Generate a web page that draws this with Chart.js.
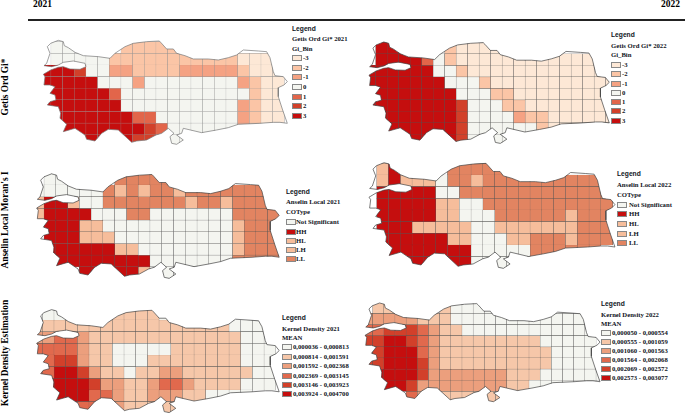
<!DOCTYPE html>
<html>
<head>
<meta charset="utf-8">
<title>Spatial maps 2021 2022</title>
<script src="https://cdn.jsdelivr.net/npm/chart.js@4/dist/chart.umd.js"></script>
<style>
html, body { margin: 0; padding: 0; background: #fff; }
body { position: relative; width: 685px; height: 414px; overflow: hidden; font-family: "Liberation Serif", serif; color: #10131c; }
canvas { position: absolute; }
.txt { position: absolute; white-space: nowrap; font-weight: bold; font-size: 6.7px; line-height: 8px; transform: translateY(-50%); }
.head { position: absolute; font-weight: bold; font-size: 9.5px; color: #000; line-height: 10px; }
.side { position: absolute; font-weight: bold; font-size: 9.4px; color: #000; white-space: nowrap; transform: translate(-50%, -50%) rotate(-90deg); }
.sans { font-family: "Liberation Sans", sans-serif; }
.swatch { position: absolute; box-sizing: border-box; width: 10px; height: 6px; border: 1px solid #888; transform: translateY(-50%); }
#rule { position: absolute; left: 28px; top: 19px; width: 657px; height: 1.5px; background: #222; }
</style>
</head>
<body>
<div class="head" style="left:33px;top:-1px">2021</div>
<div class="head" style="left:661px;top:-1px">2022</div>
<div id="rule"></div>
<div class="side" style="left:5px;top:87px">Getis Ord Gi*</div>
<div class="side" style="left:5px;top:220px">Anselin Local Moran's I</div>
<div class="side" style="left:5px;top:353px">Kernel Density Estimation</div>
<script>
// class labels
const giLabels = ['-3', '-2', '-1', '0', '1', '2', '3'];
const coLabels = ['Not Significant', 'HH', 'HL', 'LH', 'LL'];
const kde2021Labels = ['0,000036 - 0,000813', '0,000814 - 0,001591', '0,001592 - 0,002368', '0,002369 - 0,003145', '0,003146 - 0,003923', '0,003924 - 0,004700'];
const kde2022Labels = ['0,000050 - 0,000554', '0,000555 - 0,001059', '0,001060 - 0,001563', '0,001564 - 0,002068', '0,002069 - 0,002572', '0,002573 - 0,003077'];

// class colours
const giColors = ['#fde8d6', '#fbc5a6', '#f5a283', '#f4f5f0', '#e2654a', '#d2402a', '#c50e0e'];
const coColors = ['#f4f5f0', '#c50e0e', '#f6bd9b', '#f6bd9b', '#e28461'];
const kdeColors = ['#f4f5f0', '#f6c7a9', '#ec9f7d', '#e1694d', '#d2402a', '#c50e0e'];

// grid cells: one string per row, one class index per column, '.' = no cell
const gi2021 = [
  '.33....11111.........',
  '.3333311111111111000.',
  '666533221111222221000',
  '666663332333333332100',
  '666666433333333333100',
  '666666633333333332100',
  '666666664433333332100',
  '666666666543333332100',
  '...6666655333........'
];
const gi2022 = [
  '.666...100000.........',
  '.6666431000000000000..',
  '6666663310000000000000',
  '6666666333100000000000',
  '6666666633311000000000',
  '6666666653331100000000',
  '6666666653333211000000',
  '6666666653333331000000',
  '....6666533333........'
];
const moran2021 = [
  '.00....44444.........',
  '00000043434434444444.',
  '31130044444443443444.',
  '311110004400000004444',
  '.11133000000000003444',
  '.11133300000000003444',
  '.11111133000000003444',
  '.11111111100000004444',
  '....111113000........'
];
const moran2022 = [
  '31....444444.........',
  '3133304434444444444..',
  '11111004444444444444.',
  '11111330044444444444.',
  '11111330004444443444.',
  '11133333003333333444.',
  '11111133000334443444.',
  '1111111100000444444..',
  '..11111100000........'
];
const kde2021 = [
  '.00....11110.........',
  '11111111111111111000.',
  '223321111111111111000',
  '333321100000111111000',
  '334421100011111111000',
  '335542110112211111100',
  '.55554221123321111000',
  '.555533211222110000..',
  '....333211111........'
];
const kde2022 = [
  '.11....10000..........',
  '22222111000000000000..',
  '334443211000000000000.',
  '445543211111111100000.',
  '4455532111111111100000',
  '4455542111111111100000',
  '.555542222222111000000',
  '.55542222222211000000.',
  '....322111111.........'
];

// country outline in map units, last point closes it on the first
const outlineU = [142,152,175,190,193,205,225,250,295,330,345,375,400,440,478,483,500,520,530,555,580,625,655,685,710,730,775,800,810,820,825,850,862,852,835,835,848,862,840,820,780,715,685,650,605,550,545,530,550,530,515,510,522,505,485,468,440,410,395,355,325,305,285,260,255,225,190,200,180,182,175,142,150,168,165,150,165,150,132,135,130,152,175,190,210,240,258,255,220,190,175,155,132,140,150,142];
const outlineV = [140,130,121,125,137,143,157,167,170,175,160,140,130,125,123,128,147,147,160,167,177,177,180,173,165,150,153,155,173,215,227,230,245,255,263,290,330,370,367,367,370,373,383,390,398,385,400,405,420,433,430,410,400,385,400,405,420,423,427,390,388,400,423,418,405,385,395,373,355,340,320,315,305,300,285,280,260,255,255,230,223,210,202,200,207,208,200,190,183,187,195,200,197,190,160,140];

// placement on the page: box = canvas box, grid = cell origin and size, map = outline fit
const panels = [
  { id: 'gi2021', rows: gi2021, colors: giColors, labels: giLabels, gridColor: '#929292', lineColor: '#777',
    box: [30, 30, 262, 120], grid: [39.3, 41.7, 11.67, 11.63], map: [0, 0.3333, 0, 0.3333],
    legend: { x: 292, lab: 303, head: 29, title: 39, field: 49, name: 'Getis Ord Gi* 2021', fieldName: 'Gi_Bin', ys: [58, 67.5, 77, 87, 97, 106, 116] } },
  { id: 'gi2022', rows: gi2022, colors: giColors, labels: giLabels, gridColor: '#555', lineColor: '#444',
    box: [355, 35, 256, 115], grid: [364.2, 42.3, 11.5, 11.5], map: [326.3, 0.3283, 2.67, 0.325],
    legend: { x: 611, lab: 622, head: 35, title: 46, field: 55, name: 'Getis Ord Gi* 2022', fieldName: 'Gi_Bin', ys: [65, 74, 83.5, 93, 102, 111, 121] } },
  { id: 'moran2021', rows: moran2021, colors: coColors, labels: coLabels, gridColor: '#555', lineColor: '#444',
    box: [25, 165, 261, 120], grid: [32.3, 173.3, 11.77, 11.7], map: [-6.4, 0.3313, 133.3, 0.335],
    legend: { x: 286, lab: 296, head: 192, title: 202, field: 212, name: 'Anselin Local 2021', fieldName: 'COType', ys: [222, 231.5, 241, 250, 259] } },
  { id: 'moran2022', rows: moran2022, colors: coColors, labels: coLabels, gridColor: '#555', lineColor: '#444',
    box: [355, 155, 262, 120], grid: [376.7, 163.3, 11.8, 11.67], map: [325.3, 0.336, 121.7, 0.3387],
    legend: { x: 617, lab: 629, head: 174, title: 185, field: 195, name: 'Anselin Local 2022', fieldName: 'COType', ys: [205, 214, 224, 234, 243] } },
  { id: 'kde2021', rows: kde2021, colors: kdeColors, labels: kde2021Labels, gridColor: '#555', lineColor: '#444',
    box: [25, 300, 257, 114], grid: [30.7, 308.3, 11.67, 11.67], map: [-6.4, 0.3313, 269.7, 0.33],
    legend: { x: 282, lab: 293, head: 318, title: 329, field: 338, name: 'Kernel Density 2021', fieldName: 'MEAN', ys: [347, 357, 366, 376, 385, 394] } },
  { id: 'kde2022', rows: kde2022, colors: kdeColors, labels: kde2022Labels, gridColor: '#555', lineColor: '#444',
    box: [355, 295, 246, 115], grid: [361.5, 302.3, 11.17, 11.13], map: [323.4, 0.3209, 264.7, 0.3163],
    legend: { x: 601, lab: 612, head: 304, title: 315, field: 324, name: 'Kernel Density 2022', fieldName: 'MEAN', ys: [333, 342, 351, 360, 369, 378] } }
];

// clip the grid bars to the country outline
const clipToOutline = {
  id: 'clipToOutline',
  beforeDatasetDraw(chart, args) {
    if (chart.data.datasets[args.index].type !== 'bar') return;
    const pts = chart.data.datasets[chart.data.datasets.length - 1].data;
    const ctx = chart.ctx;
    ctx.save();
    ctx.beginPath();
    pts.forEach((p, i) => {
      const x = chart.scales.x.getPixelForValue(p.x);
      const y = chart.scales.y.getPixelForValue(p.y);
      if (i === 0) ctx.moveTo(x, y); else ctx.lineTo(x, y);
    });
    ctx.closePath();
    ctx.clip();
  },
  afterDatasetDraw(chart, args) {
    if (chart.data.datasets[args.index].type === 'bar') chart.ctx.restore();
  }
};

function addText(text, x, y, cls) {
  const el = document.createElement('div');
  el.className = 'txt ' + (cls || '');
  el.style.left = x + 'px';
  el.style.top = y + 'px';
  el.textContent = text;
  document.body.appendChild(el);
}

function addLegend(p) {
  const l = p.legend;
  addText('Legend', l.x, l.head, 'sans');
  addText(l.name, l.x, l.title);
  addText(l.fieldName, l.x, l.field);
  p.labels.forEach((label, i) => {
    const sw = document.createElement('div');
    sw.className = 'swatch';
    sw.style.left = l.x + 'px';
    sw.style.top = l.ys[i] + 'px';
    sw.style.background = p.colors[i];
    document.body.appendChild(sw);
    addText(label, l.lab, l.ys[i]);
  });
}

function drawPanel(p) {
  const [left, top, w, h] = p.box;
  const [ox, oy, cw, ch] = p.grid;
  const [ax, sx, ay, sy] = p.map;

  const canvas = document.createElement('canvas');
  canvas.id = p.id;
  canvas.style.left = left + 'px';
  canvas.style.top = top + 'px';
  canvas.width = w;
  canvas.height = h;
  document.body.appendChild(canvas);

  // one bar dataset per class
  const datasets = p.labels.map((label, k) => {
    const cells = [];
    p.rows.forEach((row, r) => {
      row.split('').forEach((c, col) => {
        if (c === String(k)) cells.push({ x: col + 0.5, y: [r, r + 1] });
      });
    });
    return {
      type: 'bar', label: label, data: cells, order: 1, grouped: false,
      backgroundColor: p.colors[k], borderColor: p.gridColor, borderWidth: 0.4,
      borderSkipped: false, barPercentage: 1, categoryPercentage: 1
    };
  });

  datasets.push({
    type: 'line', label: 'outline', order: 0, clip: false,
    data: outlineU.map((u, i) => ({
      x: (ax + sx * u - ox) / cw,
      y: (ay + sy * outlineV[i] - oy) / ch
    })),
    borderColor: p.lineColor, borderWidth: 0.7, pointRadius: 0, tension: 0, fill: false
  });

  new Chart(canvas.getContext('2d'), {
    type: 'bar',
    data: { datasets: datasets },
    options: {
      responsive: false,
      animation: false,
      layout: { padding: 0 },
      plugins: { legend: { display: false }, tooltip: { enabled: false } },
      scales: {
        x: { type: 'linear', display: false, offset: false, min: (left - ox) / cw, max: (left + w - ox) / cw },
        y: { type: 'linear', display: false, reverse: true, min: (top - oy) / ch, max: (top + h - oy) / ch }
      }
    },
    plugins: [clipToOutline]
  });
  addLegend(p);
}

panels.forEach(drawPanel);
</script>
</body>
</html>
